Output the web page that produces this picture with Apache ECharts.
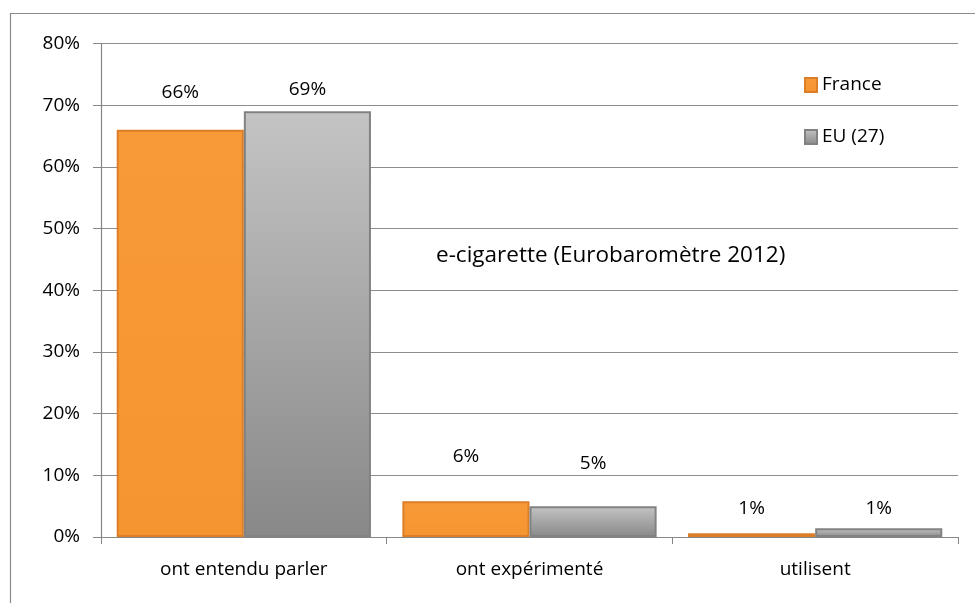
<!DOCTYPE html>
<html>
<head>
<meta charset="utf-8">
<script src="https://cdn.jsdelivr.net/npm/echarts@6/dist/echarts.min.js"></script>
<style>
html,body{margin:0;padding:0;background:#fff;}
#chart{width:975px;height:603px;}
</style>
</head>
<body>
<div id="chart"></div>
<script>
const categories = ["ont entendu parler", "ont expérimenté", "utilisent"];
const seriesNames = ["France", "EU (27)"];
const franceValues = [66, 5.8, 0.6];
const euValues = [69, 5, 1.4];
const yTicks = [0, 10, 20, 30, 40, 50, 60, 70, 80];
const chartTitle = "e-cigarette (Eurobaromètre 2012)";

const FONT = "'Open Sans', 'DejaVu Sans', sans-serif";
const franceLabelDist = [28, 35, 15];
const euLabelDist = [12, 33, 10];

function mkData(vals, dists) {
  return vals.map((v, i) => ({ value: v, label: { distance: dists[i] } }));
}

const chart = echarts.init(document.getElementById('chart'));
chart.setOption({
  animation: false,
  backgroundColor: '#ffffff',
  graphic: [
    { type: 'rect', shape: { x: 10.5, y: 13.5, width: 1000, height: 700 },
      style: { fill: 'none', stroke: '#8a8a8a', lineWidth: 1.2 }, z: 0 },
    { type: 'text', left: 436, top: 244,
      style: { text: chartTitle, font: "22.5px " + FONT, fill: '#000' }, z: 10 }
  ],
  legend: {
    orient: 'vertical', left: 799, top: 70,
    itemWidth: 12, itemHeight: 14, itemGap: 32,
    icon: 'rect',
    textStyle: { fontFamily: FONT, fontSize: 19, color: '#000', lineHeight: 20, padding: [0,0,0,0] },
    data: seriesNames
  },
  grid: { left: 101, right: 17, top: 43.5, bottom: 66, containLabel: false },
  xAxis: {
    type: 'category', data: categories,
    axisLine: { lineStyle: { color: '#868686', width: 1.2 } },
    axisTick: { show: true, length: 7, lineStyle: { color: '#868686' } },
    axisLabel: { margin: 23, fontFamily: FONT, fontSize: 19, color: '#000' }
  },
  yAxis: {
    type: 'value', min: yTicks[0], max: yTicks[yTicks.length - 1], interval: 10,
    axisLine: { show: true, lineStyle: { color: '#868686', width: 1.2 } },
    axisTick: { show: true, length: 8, lineStyle: { color: '#868686' } },
    axisLabel: { margin: 21, fontFamily: FONT, fontSize: 19, color: '#000', formatter: '{value}%' },
    splitLine: { lineStyle: { color: '#8c8c8c', width: 1.2 } }
  },
  series: [
    {
      name: seriesNames[0], type: 'bar', barGap: '0%', barCategoryGap: '11%',
      data: mkData(franceValues, franceLabelDist),
      itemStyle: {
        color: new echarts.graphic.LinearGradient(0, 0, 0, 1, [
          { offset: 0, color: '#F89A38' }, { offset: 1, color: '#F59530' }
        ]),
        borderColor: '#DC7E28', borderWidth: 2
      },
      label: { show: true, position: 'top', fontFamily: FONT, fontSize: 19, color: '#000',
        formatter: p => Math.round(p.value) + '%' }
    },
    {
      name: seriesNames[1], type: 'bar',
      data: mkData(euValues, euLabelDist),
      itemStyle: {
        color: new echarts.graphic.LinearGradient(0, 0, 0, 1, [
          { offset: 0, color: '#C4C4C4' }, { offset: 1, color: '#888888' }
        ]),
        borderColor: '#828282', borderWidth: 2
      },
      label: { show: true, position: 'top', fontFamily: FONT, fontSize: 19, color: '#000',
        formatter: p => Math.round(p.value) + '%' }
    }
  ]
});
</script>
</body>
</html>
